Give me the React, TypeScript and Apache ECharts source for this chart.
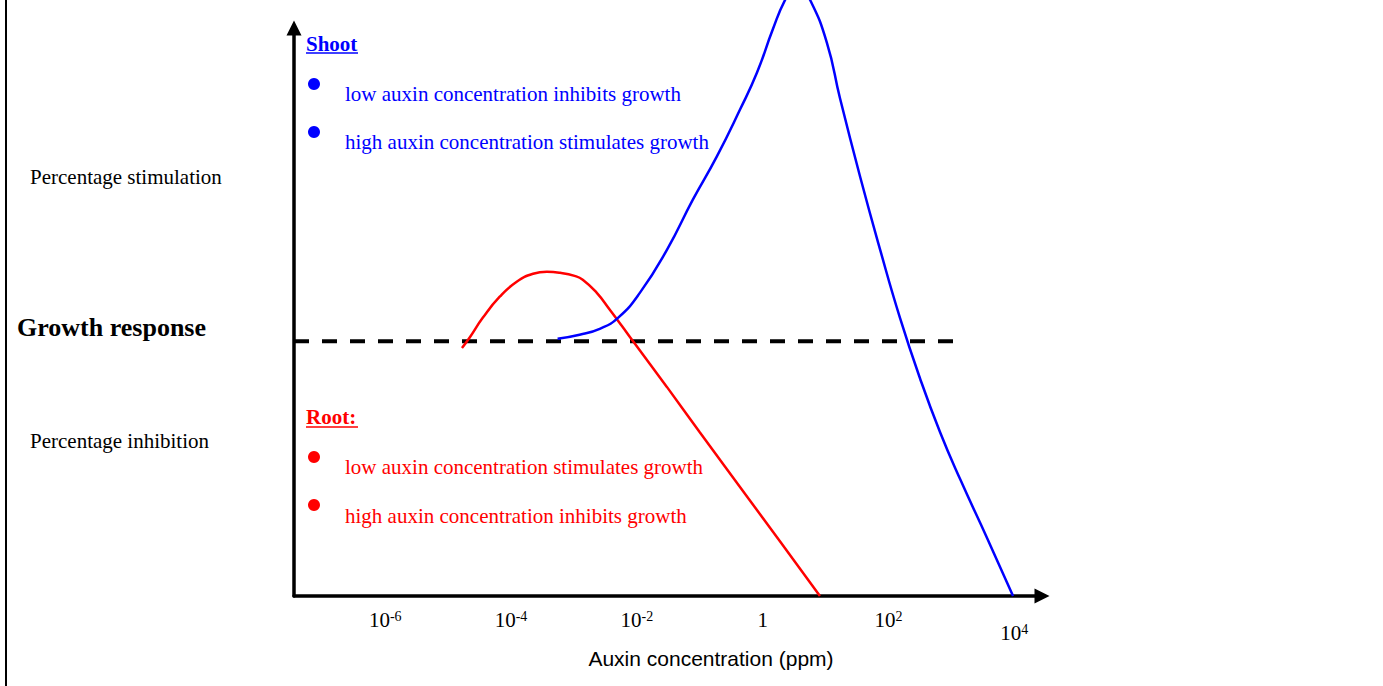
import React, { useEffect, useRef } from "react";
import * as echarts from "echarts";

// log10 of auxin concentration (ppm) for tick labels
const tickValues = [-6, -4, -2, 0, 2, 4];
const tickBase = ["10", "10", "10", "1", "10", "10"];
const tickExp = ["-6", "-4", "-2", "", "2", "4"];

// Root curve: x = log10 concentration, y = growth response (% stimulation +, inhibition -)
const rootX = [-4.78, -4.66, -4.45, -4.18, -3.91, -3.65, -3.43, -3.22, -2.99, -2.86, -2.64, -2.43, -2.24, -2.06, -1.52, -1.0, -0.2, 0.28, 0.91];
const rootY = [-2.6, 1.4, 9.2, 17.5, 23.4, 26.5, 27.3, 26.9, 25.7, 24.2, 19.1, 12.4, 6.1, 0, -18.0, -35.7, -62.6, -78.7, -100];

// Shoot curve
const shootX = [-3.26, -2.91, -2.59, -2.3, -1.95, -1.52, -1.11, -0.73, -0.36, -0.09, 0.16, 0.36, 0.55, 0.75, 1.02, 1.23, 1.55, 1.87, 2.18, 2.5, 2.82, 3.14, 3.57, 3.98];
const shootY = [1.0, 2.6, 4.9, 9.2, 19.1, 36.0, 55.6, 72.5, 91.0, 105.5, 122.4, 134.2, 141.2, 134.2, 117.3, 95.3, 64.5, 35.7, 9.4, -14.5, -35.7, -54.2, -77.4, -100];

// zero-response reference line
const zeroLineX = [-7.45, 3.06];
const zeroLineY = [0, 0];

const xMin = -7.45;
const xMax = 4.44;
const yMin = -100;
const yMax = 123;

const SERIF = '"Liberation Serif", "Times New Roman", serif';
const SANS = '"Liberation Sans", Arial, sans-serif';
const BLUE = "#0000ff";
const RED = "#ff0000";

const zip = (xs: number[], ys: number[]) => xs.map((x, i) => [x, ys[i]]);

export default function App() {
  const ref = useRef<HTMLDivElement>(null);

  useEffect(() => {
    if (!ref.current) return;
    const chart = echarts.init(ref.current, undefined, { renderer: "svg" });

    const txt = (text: string, x: number, y: number, font: string, fill: string) => ({
      type: "text",
      x,
      y,
      style: { text, font, fill, align: "left", verticalAlign: "middle" },
    });

    chart.setOption({
      animation: false,
      backgroundColor: "#ffffff",
      grid: { left: 294, right: 341, top: 28, bottom: 90, containLabel: false },
      xAxis: {
        type: "value",
        min: xMin,
        max: xMax,
        axisLine: {
          show: true,
          onZero: false,
          symbol: ["none", "triangle"],
          symbolSize: [15, 15],
          lineStyle: { color: "#000", width: 3.5 },
        },
        axisTick: { show: false },
        splitLine: { show: false },
        axisLabel: {
          customValues: tickValues,
          margin: 13,
          formatter: (v: number) => {
            const i = tickValues.findIndex((t) => Math.abs(t - v) < 1e-6);
            if (i < 0) return "";
            const main = tickExp[i] ? `{b|${tickBase[i]}}{s|${tickExp[i]}}` : `{b|${tickBase[i]}}`;
            return i === tickValues.length - 1 ? `{g| }\n${main}` : main;
          },
          rich: {
            b: { fontSize: 21, fontFamily: SERIF, color: "#000" },
            s: { fontSize: 14, fontFamily: SERIF, color: "#000", verticalAlign: "top" },
            g: { fontSize: 4, lineHeight: 13 },
          },
        },
      },
      yAxis: {
        type: "value",
        min: yMin,
        max: yMax,
        axisLine: {
          show: true,
          onZero: false,
          symbol: ["none", "triangle"],
          symbolSize: [15, 15],
          lineStyle: { color: "#000", width: 3.5 },
        },
        axisTick: { show: false },
        axisLabel: { show: false },
        splitLine: { show: false },
      },
      series: [
        {
          name: "zero",
          type: "line",
          data: zip(zeroLineX, zeroLineY),
          showSymbol: false,
          z: 1,
          lineStyle: { color: "#000", width: 4, type: [15, 13] },
        },
        {
          name: "Root",
          type: "line",
          data: zip(rootX, rootY),
          showSymbol: false,
          smooth: 0.5,
          clip: false,
          z: 3,
          lineStyle: { color: RED, width: 2.5 },
        },
        {
          name: "Shoot",
          type: "line",
          data: zip(shootX, shootY),
          showSymbol: false,
          smooth: 0.5,
          clip: false,
          z: 3,
          lineStyle: { color: BLUE, width: 2.5 },
        },
      ],
      graphic: [
        { type: "line", shape: { x1: 6, y1: 0, x2: 6, y2: 686 }, style: { stroke: "#000", lineWidth: 2 } },
        txt("Percentage stimulation", 30, 177, `21px ${SERIF}`, "#000"),
        txt("Growth response", 17, 327, `bold 26px ${SERIF}`, "#000"),
        txt("Percentage inhibition", 30, 441, `21px ${SERIF}`, "#000"),
        // Shoot legend
        txt("Shoot", 306, 44, `bold 21px ${SERIF}`, BLUE),
        { type: "line", shape: { x1: 306, y1: 53, x2: 358, y2: 53 }, style: { stroke: BLUE, lineWidth: 1.5 } },
        { type: "circle", shape: { cx: 314, cy: 84, r: 6 }, style: { fill: BLUE } },
        txt("low auxin concentration inhibits growth", 345, 94, `21px ${SERIF}`, BLUE),
        { type: "circle", shape: { cx: 314, cy: 132, r: 6 }, style: { fill: BLUE } },
        txt("high auxin concentration stimulates growth", 345, 142, `21px ${SERIF}`, BLUE),
        // Root legend
        txt("Root:", 306, 417, `bold 21px ${SERIF}`, RED),
        { type: "line", shape: { x1: 306, y1: 427, x2: 358, y2: 427 }, style: { stroke: RED, lineWidth: 1.5 } },
        { type: "circle", shape: { cx: 314, cy: 457, r: 6 }, style: { fill: RED } },
        txt("low auxin concentration stimulates growth", 345, 467, `21px ${SERIF}`, RED),
        { type: "circle", shape: { cx: 314, cy: 505, r: 6 }, style: { fill: RED } },
        txt("high auxin concentration inhibits growth", 345, 516, `21px ${SERIF}`, RED),
        // x axis title
        {
          type: "text",
          x: 711,
          y: 658,
          style: { text: "Auxin concentration (ppm)", font: `21px ${SANS}`, fill: "#000", align: "center", verticalAlign: "middle" },
        },
      ],
    });

    return () => chart.dispose();
  }, []);

  return (
    <div
      ref={ref}
      style={{ position: "fixed", left: 0, top: 0, width: 1383, height: 686, background: "#fff" }}
    />
  );
}
